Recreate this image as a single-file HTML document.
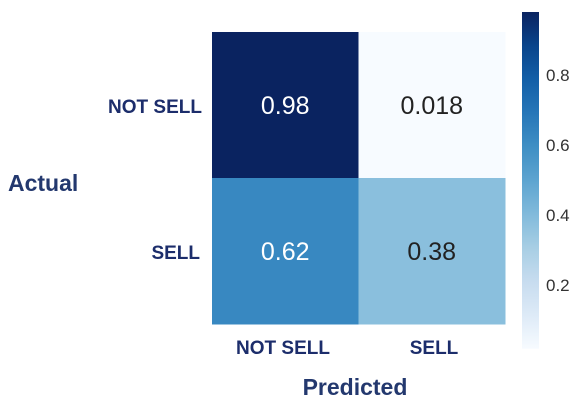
<!DOCTYPE html>
<html><head><meta charset="utf-8"><style>
body{margin:0;background:#fff;}
svg text{font-family:"Liberation Sans",sans-serif;}
</style></head><body>
<svg width="587" height="406">
<defs><linearGradient id="cbg" x1="0" y1="1" x2="0" y2="0"></linearGradient></defs>
<g id="cells"></g>
<rect id="cbar" x="522" width="17" fill="url(#cbg)"></rect>
<g id="cticks"></g>
<text x="202" y="113" font-size="19" font-weight="bold" fill="#1c2d6b" text-anchor="end">NOT SELL</text>
<text x="200" y="259" font-size="19" font-weight="bold" fill="#1c2d6b" text-anchor="end">SELL</text>
<text x="283" y="354" font-size="19" font-weight="bold" fill="#1c2d6b" text-anchor="middle">NOT SELL</text>
<text x="434" y="354" font-size="19" font-weight="bold" fill="#1c2d6b" text-anchor="middle">SELL</text>
<text x="8" y="191" font-size="23" font-weight="bold" fill="#23386e">Actual</text>
<text x="355" y="395" font-size="23" font-weight="bold" fill="#23386e" text-anchor="middle">Predicted</text>
</svg>
<script>
const rows=["NOT SELL","SELL"];
const cols=["NOT SELL","SELL"];
const values=[[0.98,0.018],[0.62,0.38]];
const cbTicks=[0.2,0.4,0.6,0.8];
const NS="http://www.w3.org/2000/svg";
const blues=["#f7fbff","#deebf7","#c6dbef","#9ecae1","#6baed6","#4292c6","#2171b5","#08519c","#0a2360"];
const flat=values.flat(),vmin=Math.min(...flat),vmax=Math.max(...flat);
function hex(c){return [1,3,5].map(i=>parseInt(c.substr(i,2),16));}
function cmap(v){let t=(v-vmin)/(vmax-vmin);t=Math.pow(Math.max(0,Math.min(1,t)),0.88)*(blues.length-1);
 const i=Math.min(Math.floor(t),blues.length-2),f=t-i,a=hex(blues[i]),b=hex(blues[i+1]);
 return "rgb("+a.map((x,k)=>Math.round(x+(b[k]-x)*f)).join(",")+")";}
const x0=212,y0=32,cw=146.5,ch=146;
const cx=j=>x0+j*cw, cy=i=>y0+i*ch;
const g=document.getElementById("cells");
values.forEach((r,i)=>r.forEach((v,j)=>{
 const rc=document.createElementNS(NS,"rect");
 
 
 rc.setAttribute("x",cx(j));rc.setAttribute("y",cy(i));rc.setAttribute("width",cw+0.5);rc.setAttribute("height",ch+0.5);
 rc.setAttribute("fill",cmap(v));g.appendChild(rc);
 const t=document.createElementNS(NS,"text");
 
 
 t.setAttribute("x",cx(j)+cw/2);t.setAttribute("y",cy(i)+ch/2+9);t.setAttribute("text-anchor","middle");
 t.setAttribute("font-size","25");t.setAttribute("fill",(v-vmin)/(vmax-vmin)>0.5?"#fff":"#222");
 t.textContent=String(v);g.appendChild(t);
}));
const cby=v=>355-v*350;
const bar=document.getElementById("cbar");
bar.setAttribute("y",cby(vmax));bar.setAttribute("height",cby(vmin)-cby(vmax));
const grad=document.getElementById("cbg");
for(let k=0;k<=10;k++){const s=document.createElementNS(NS,"stop");const v=vmin+(vmax-vmin)*k/10;
 s.setAttribute("offset",k/10);s.setAttribute("stop-color",cmap(v));grad.appendChild(s);}
const ct=document.getElementById("cticks");
cbTicks.forEach(v=>{const t=document.createElementNS(NS,"text");
 
 
 t.setAttribute("x",546);t.setAttribute("y",cby(v)+6);t.setAttribute("font-size","17");t.setAttribute("fill","#333");
 t.textContent=String(v);ct.appendChild(t);});
</script>
</body></html>
